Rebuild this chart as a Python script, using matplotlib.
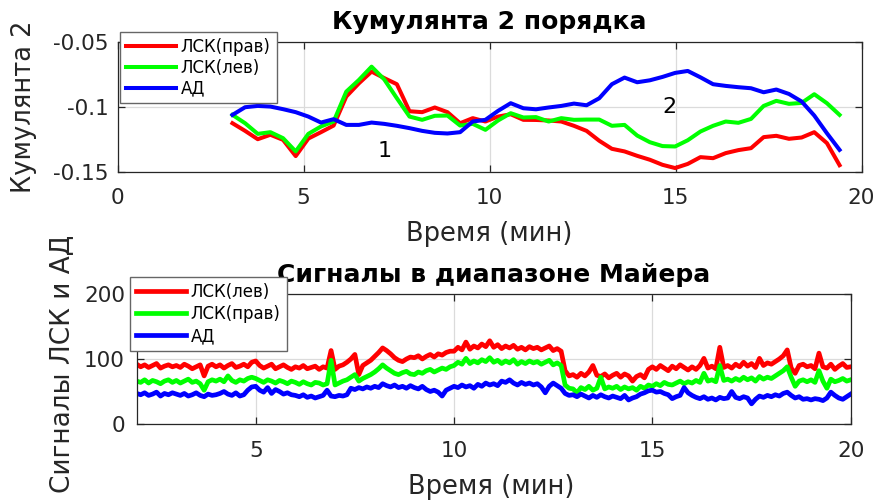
import numpy as np
import matplotlib
matplotlib.use("Agg")
import matplotlib.pyplot as plt

plt.rcParams['font.family'] = ['DejaVu Sans']
plt.rcParams['axes.unicode_minus'] = False

# ---- Cumulant of order 2 (one value per 0.34-min window) ----
cum_t0, cum_dt = 3.09, 0.34
cum_lsk_right = [
    -0.1127, -0.1186, -0.1250, -0.1216, -0.1255, -0.1380, -0.1245, -0.1196, -0.1145, -0.0922,
    -0.0820, -0.0730, -0.0780, -0.0827, -0.1035, -0.1042, -0.1006, -0.1042, -0.1127, -0.1088,
    -0.1114, -0.1076, -0.1058, -0.1101, -0.1102, -0.1106, -0.1114, -0.1147, -0.1186, -0.1262,
    -0.1324, -0.1344, -0.1378, -0.1408, -0.1447, -0.1472, -0.1440, -0.1388, -0.1396, -0.1357,
    -0.1334, -0.1319, -0.1234, -0.1224, -0.1247, -0.1237, -0.1196, -0.1280, -0.1450]
cum_lsk_left = [
    -0.1063, -0.1127, -0.1209, -0.1196, -0.1242, -0.1344, -0.1209, -0.1152, -0.1114, -0.0884,
    -0.0794, -0.0692, -0.0790, -0.0935, -0.1076, -0.1101, -0.1070, -0.1068, -0.1145, -0.1132,
    -0.1178, -0.1106, -0.1050, -0.1083, -0.1080, -0.1114, -0.1088, -0.1101, -0.1099, -0.1099,
    -0.1147, -0.1140, -0.1222, -0.1273, -0.1303, -0.1306, -0.1258, -0.1191, -0.1147, -0.1114,
    -0.1124, -0.1094, -0.0994, -0.0955, -0.0978, -0.0971, -0.0904, -0.0973, -0.1063]
cum_ad = [
    -0.1063, -0.1004, -0.0994, -0.0999, -0.1019, -0.1042, -0.1076, -0.1122, -0.1096, -0.1140,
    -0.1140, -0.1122, -0.1132, -0.1147, -0.1165, -0.1186, -0.1201, -0.1206, -0.1196, -0.1114,
    -0.1101, -0.1032, -0.0973, -0.1012, -0.1020, -0.1006, -0.0994, -0.0976, -0.0989, -0.0935,
    -0.0827, -0.0776, -0.0812, -0.0797, -0.0771, -0.0740, -0.0725, -0.0774, -0.0827, -0.0840,
    -0.0850, -0.0858, -0.0889, -0.0868, -0.0902, -0.0960, -0.1068, -0.1204, -0.1332]
cum_labels = ['ЛСК(прав)', 'ЛСК(лев)', 'АД']
cum_yticks = [-0.15, -0.1, -0.05]
cum_yticklabels = ['-0.15', '-0.1', '-0.05']
cum_notes = [(7.17, -0.134, '1'), (14.83, -0.1005, '2')]

# ---- Mayer-band signals, sampled every 0.1 min from 2 to 20 min ----
sig_t0, sig_dt = 2.0, 0.1
sig_lsk_left = [
    92, 88, 91, 87, 90, 93, 86, 89, 91, 88,
    90, 87, 92, 89, 85, 88, 91, 74, 89, 92,
    88, 91, 86, 90, 93, 87, 89, 92, 88, 95,
    97, 90, 86, 89, 92, 85, 88, 91, 87, 84,
    88, 86, 90, 85, 87, 89, 84, 88, 86, 113,
    84, 89, 91, 95, 100, 107, 76, 90, 94, 98,
    104, 110, 117, 113, 108, 102, 98, 96, 100, 103,
    102, 105, 100, 104, 107, 103, 108, 106, 110, 112,
    112, 118, 114, 126, 115, 120, 117, 123, 119, 128,
    118, 122, 116, 120, 117, 121, 115, 118, 114, 119,
    116, 118, 114, 117, 120, 113, 116, 112, 82, 74,
    76, 72, 78, 74, 80, 90, 75, 73, 77, 71,
    75, 78, 72, 77, 74, 66, 73, 76, 71, 84,
    88, 84, 90, 86, 82, 89, 85, 91, 87, 83,
    88, 84, 90, 101, 86, 89, 85, 118, 87, 90,
    86, 92, 88, 95, 89, 93, 87, 101, 90, 94,
    92, 96, 100, 105, 114, 86, 78, 90, 92, 88,
    90, 85, 109, 88, 86, 92, 84, 89, 93, 87,
    88]
sig_lsk_right = [
    66, 64, 68, 63, 67, 65, 62, 66, 68, 64,
    67, 63, 66, 69, 64, 66, 62, 52, 65, 68,
    66, 69, 65, 74, 67, 64, 68, 66, 70, 72,
    70, 67, 64, 68, 66, 63, 67, 65, 62, 66,
    64, 61, 65, 62, 60, 64, 63, 60, 62, 98,
    60, 63, 66, 68, 72, 76, 66, 70, 73, 76,
    80, 85, 91, 86, 82, 78, 76, 79, 81, 77,
    76, 80, 78, 82, 84, 80, 83, 86, 84, 88,
    90, 95, 92, 101, 93, 97, 94, 99, 96, 102,
    95, 98, 93, 97, 94, 99, 92, 96, 93, 97,
    94, 96, 92, 95, 98, 91, 94, 90, 60, 55,
    54, 48, 56, 53, 58, 52, 55, 72, 54, 57,
    55, 58, 53, 57, 54, 56, 52, 58, 55, 60,
    58, 62, 59, 64, 61, 60, 63, 66, 62, 65,
    63, 67, 64, 78, 66, 68, 65, 90, 67, 69,
    66, 70, 67, 72, 68, 71, 66, 73, 69, 72,
    70, 74, 78, 82, 88, 72, 58, 66, 68, 65,
    68, 64, 82, 66, 55, 69, 65, 67, 70, 66,
    68]
sig_ad = [
    47, 45, 48, 44, 46, 49, 43, 47, 45, 48,
    46, 44, 47, 43, 45, 48, 44, 42, 46, 44,
    45, 47, 50, 46, 44, 48, 43, 45, 52, 57,
    58, 52, 49, 56, 47, 53, 50, 46, 48, 45,
    44, 42, 45, 41, 43, 40, 42, 44, 52, 43,
    42, 44, 43, 45, 55, 53, 56, 54, 57, 55,
    58, 56, 62, 59, 57, 60, 56, 58, 55, 59,
    56, 54, 58, 53, 50, 52, 49, 43, 52, 55,
    58, 56, 60, 57, 59, 55, 61, 58, 63, 60,
    62, 59, 66, 64, 68, 63, 60, 64, 61, 63,
    60, 62, 57, 48, 58, 63, 59, 55, 47, 44,
    45, 42, 46, 43, 40, 44, 41, 45, 42, 40,
    43, 41, 39, 44, 37, 40, 42, 46, 48, 51,
    52, 49, 50, 47, 45, 39, 42, 44, 56, 48,
    44, 41, 39, 42, 38, 40, 37, 41, 39, 40,
    50, 41, 39, 42, 40, 31, 38, 43, 41, 44,
    42, 45, 43, 47, 49, 44, 40, 42, 38, 39,
    37, 39, 38, 36, 40, 49, 44, 40, 38, 42,
    46]
sig_labels = ['ЛСК(лев)', 'ЛСК(прав)', 'АД']

RED, GREEN, BLUE = (1, 0, 0), (0, 1, 0), (0, 0, 1)
EDGE = (0.15, 0.15, 0.15)
TXT = (0.15, 0.15, 0.15)
GRID = (0.86, 0.86, 0.86)

fig = plt.figure(figsize=(8.76, 5.01), dpi=100)
W, H = 876, 501


def box(l, t, r, b):
    return [l / W, 1 - b / H, (r - l) / W, (b - t) / H]


def style(ax, xpad, ypad):
    for s in ax.spines.values():
        s.set_color(EDGE)
        s.set_linewidth(0.9)
    ax.tick_params(direction='in', length=5, width=0.9, color=EDGE,
                   labelsize=15.5, labelcolor=TXT, top=True, right=True)
    ax.tick_params(axis='x', pad=xpad)
    ax.tick_params(axis='y', pad=ypad)
    ax.grid(True, color=GRID, linewidth=0.9)
    ax.set_axisbelow(True)


def legend(ax, handles, labels, left, top, spacing):
    lg = ax.legend(handles, labels, loc='upper left',
                   bbox_to_anchor=(left / W, 1 - top / H),
                   bbox_transform=fig.transFigure,
                   fontsize=12, handlelength=3.0, handletextpad=0.3,
                   labelspacing=spacing, borderpad=0.35, borderaxespad=0,
                   fancybox=False, framealpha=1, edgecolor=(0.4, 0.4, 0.4))
    lg.get_frame().set_linewidth(1.0)
    return lg


# ---------- top panel ----------
ax1 = fig.add_axes(box(117.5, 41.7, 861.5, 171.7))
t_cum = cum_t0 + cum_dt * np.arange(len(cum_ad))
l1, = ax1.plot(t_cum, cum_lsk_right, color=RED, lw=2.9)
l2, = ax1.plot(t_cum, cum_lsk_left, color=GREEN, lw=2.9)
l3, = ax1.plot(t_cum, cum_ad, color=BLUE, lw=2.9)
ax1.set_xlim(0, 20)
ax1.set_ylim(-0.15, -0.05)
ax1.set_xticks([0, 5, 10, 15, 20])
ax1.set_yticks(cum_yticks)
ax1.set_yticklabels(cum_yticklabels)
style(ax1, 11.5, 6.5)
for x, y, s in cum_notes:
    ax1.text(x, y, s, fontsize=16, ha='center', va='center', color='black')
ax1.set_title('Кумулянта 2 порядка', fontsize=18, fontweight='bold', pad=9.5)
ax1.set_xlabel('Время (мин)', fontsize=18.5, color=TXT)
ax1.xaxis.set_label_coords(0.5, -0.38)
ax1.set_ylabel('Кумулянта 2', fontsize=18.5, color=TXT)
ax1.yaxis.set_label_coords(-0.108, 0.5)
legend(ax1, [l1, l2, l3], cum_labels, 120, 31.7, 0.18)

# ---------- bottom panel ----------
ax2 = fig.add_axes(box(136.7, 294, 850.7, 424))
t_sig = sig_t0 + sig_dt * np.arange(len(sig_ad))
m1, = ax2.plot(t_sig, sig_lsk_left, color=RED, lw=3.4)
m2, = ax2.plot(t_sig, sig_lsk_right, color=GREEN, lw=3.4)
m3, = ax2.plot(t_sig, sig_ad, color=BLUE, lw=3.4)
ax2.set_xlim(2, 20)
ax2.set_ylim(0, 200)
ax2.set_xticks([5, 10, 15, 20])
ax2.set_yticks([0, 100, 200])
style(ax2, 12.5, 8.5)
ax2.set_title('Сигналы в диапазоне Майера', fontsize=18, fontweight='bold', pad=8.5)
ax2.set_xlabel('Время (мин)', fontsize=18.5, color=TXT)
ax2.xaxis.set_label_coords(0.496, -0.382)
ax2.set_ylabel('Сигналы ЛСК и АД', fontsize=19, color=TXT)
ax2.yaxis.set_label_coords(-0.087, 0.46)
legend(ax2, [m1, m2, m3], sig_labels, 130, 276.7, 0.25)

fig.savefig('out.png', dpi=100)
